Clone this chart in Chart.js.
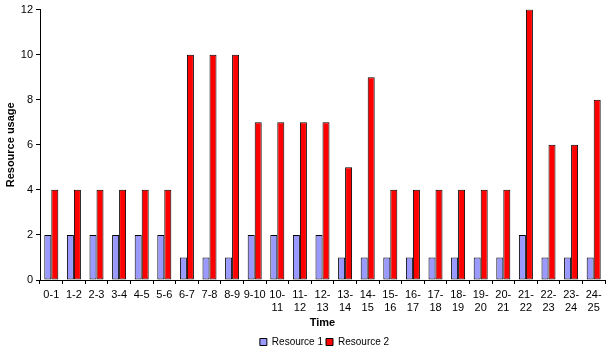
<!DOCTYPE html>
<html>
<head>
<meta charset="utf-8">
<script src="https://cdn.jsdelivr.net/npm/chart.js@4/dist/chart.umd.min.js"></script>
<style>
  html, body { margin: 0; padding: 0; background: #fff; }
  #wrap { width: 611px; height: 353px; }
</style>
</head>
<body>
<div id="wrap"><canvas id="usage"></canvas></div>
<script>
// ── data ──
const timeSlots = [
  "0-1", "1-2", "2-3", "3-4", "4-5", "5-6", "6-7", "7-8", "8-9", "9-10",
  ["10-", "11"], ["11-", "12"], ["12-", "13"], ["13-", "14"], ["14-", "15"],
  ["15-", "16"], ["16-", "17"], ["17-", "18"], ["18-", "19"], ["19-", "20"],
  ["20-", "21"], ["21-", "22"], ["22-", "23"], ["23-", "24"], ["24-", "25"]
];
const resource1 = [2, 2, 2, 2, 2, 2, 1, 1, 1, 2, 2, 2, 2, 1, 1, 1, 1, 1, 1, 1, 1, 2, 1, 1, 1];
const resource2 = [4, 4, 4, 4, 4, 4, 10, 10, 10, 7, 7, 7, 7, 5, 9, 4, 4, 4, 4, 4, 4, 12, 6, 6, 8];
const yTicks = [0, 2, 4, 6, 8, 10, 12];

Chart.defaults.font.family = "'Liberation Sans', Arial, sans-serif";
Chart.defaults.font.size = 11;
Chart.defaults.color = "#000";

// the legend sits a bit right of the centre in the original
const shiftLegend = {
  id: "shiftLegend",
  afterLayout(chart) {
    chart.legend.left += 22;
    chart.legend.right += 22;
  }
};

new Chart(document.getElementById("usage"), {
  type: "bar",
  data: {
    labels: timeSlots,
    datasets: [
      { label: "Resource 1", data: resource1, backgroundColor: "#9999ff", borderColor: "#000", borderWidth: 1, borderSkipped: false },
      { label: "Resource 2", data: resource2, backgroundColor: "#ff0000", borderColor: "#000", borderWidth: 1, borderSkipped: false }
    ]
  },
  plugins: [shiftLegend],
  options: {
    responsive: true,
    maintainAspectRatio: false,
    animation: false,
    layout: { padding: { top: 4, right: 6, bottom: -4, left: 0 } },
    datasets: { bar: { categoryPercentage: 0.62, barPercentage: 1.0 } },
    plugins: {
      tooltip: { enabled: false },
      legend: {
        position: "bottom",
        labels: { boxWidth: 7, boxHeight: 7, padding: 3, color: "#000", font: { size: 10 } }
      }
    },
    scales: {
      x: {
        grid: { drawOnChartArea: false, color: "#000", tickLength: 4 },
        border: { color: "#000" },
        ticks: { maxRotation: 0, autoSkip: false, padding: 4 },
        title: { display: true, text: "Time", font: { weight: "bold", size: 11 }, padding: { top: 0, bottom: 4 } },
        afterFit: (axis) => { axis.height = 54; }
      },
      y: {
        min: 0,
        max: 12,
        grid: { drawOnChartArea: false, color: "#000", tickLength: 4 },
        border: { color: "#000" },
        ticks: { padding: 3 },
        afterBuildTicks: (axis) => { axis.ticks = yTicks.map((v) => ({ value: v })); },
        title: { display: true, text: "Resource usage", font: { weight: "bold", size: 11 }, padding: { top: 4, bottom: 4 } },
        afterFit: (axis) => { axis.width = 40; }
      }
    }
  }
});
</script>
</body>
</html>
